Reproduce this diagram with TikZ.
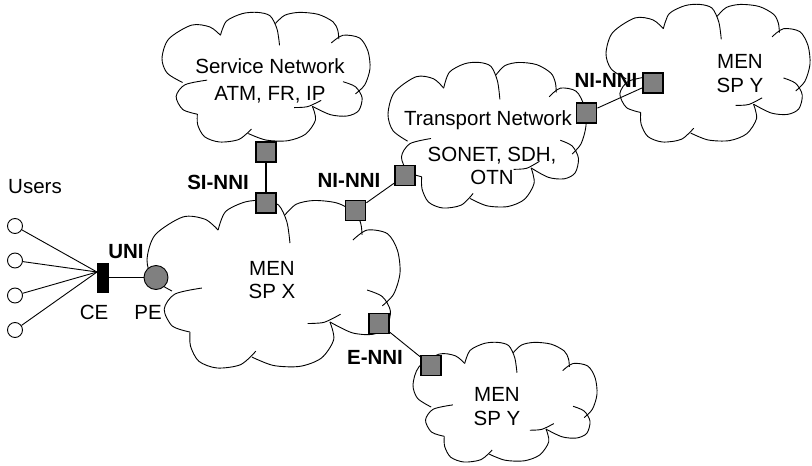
\documentclass[tikz,border=0pt]{standalone}
\usepackage{fontspec}
\setmainfont{Liberation Sans}
\newcommand{\cloudshape}{%
  \draw[cloudline] plot[smooth] coordinates {(0.099,0.542) (0.025,0.47) (0.0,0.357) (0.032,0.208) (0.142,0.101) (0.23,0.115) (0.281,0.179)};
  \draw[cloudline] plot[smooth] coordinates {(0.281,0.179) (0.31,0.07) (0.387,0.012) (0.46,0.003) (0.52,0.03) (0.553,0.131) (0.565,0.256)};
  \draw[cloudline] plot[smooth] coordinates {(0.545,0.089) (0.59,0.025) (0.66,0.003) (0.751,0.018) (0.822,0.075) (0.845,0.14) (0.85,0.208)};
  \draw[cloudline] plot[smooth] coordinates {(0.814,0.238) (0.87,0.179) (0.95,0.2) (0.99,0.3) (1.0,0.435) (0.975,0.56) (0.93,0.63)};
  \draw[cloudline] plot[smooth] coordinates {(0.87,0.536) (0.93,0.575) (0.962,0.66) (0.945,0.76) (0.89,0.8) (0.81,0.79) (0.723,0.726)};
  \draw[cloudline] plot[smooth] coordinates {(0.723,0.726) (0.738,0.83) (0.69,0.94) (0.605,0.99) (0.5,0.985) (0.415,0.935)};
  \draw[cloudline] plot[smooth] coordinates {(0.43,0.9) (0.37,0.98) (0.277,1.0) (0.205,0.96) (0.172,0.87) (0.17,0.786)};
  \draw[cloudline] plot[smooth] coordinates {(0.17,0.786) (0.1,0.75) (0.068,0.65) (0.11,0.56) (0.217,0.524)};
  \draw[cloudline] plot[smooth] coordinates {(0.635,0.735) (0.7,0.728) (0.765,0.68)};
}
\newcommand{\cloudat}[4]{\begin{scope}[shift={(#1,#2)},xscale=#3,yscale=#4]\cloudshape\end{scope}}
\begin{document}
\begin{tikzpicture}[x=1pt,y=-1pt,
  cloudline/.style={line width=0.9pt},
  port/.style={draw, line width=1.8pt, fill=gray, minimum size=20pt, inner sep=0pt},
  lbl/.style={font=\fontsize{20.5}{23.5}\selectfont, inner sep=0pt, align=center},
  blbl/.style={font=\fontsize{20.5}{23.5}\selectfont\bfseries, inner sep=0pt, align=center},
  user/.style={circle, draw, line width=0.9pt, minimum size=15pt, inner sep=0pt},
  link/.style={line width=0.9pt}]
\useasboundingbox (0,0) rectangle (812,466);
\fill[white] (0,0) rectangle (812,466);
% clouds
\cloudat{147}{200}{253}{168}
\cloudat{162}{12}{208}{130}
\cloudat{388}{62}{198}{146}
\cloudat{606}{4}{204}{138}
\cloudat{413}{342}{184}{120}
% ports
\node[port] (sisvc) at (266,152) {};
\node[port] (simen) at (266,203) {};
\node[port] (nimen) at (355.5,210.5) {};
\node[port] (nitr) at (405,175.5) {};
\node[port] (nitr2) at (586.5,113) {};
\node[port] (niy) at (653,83) {};
\node[port] (emen) at (379,323.5) {};
\node[port] (ey) at (431,365.5) {};
\draw[line width=1.3pt] (sisvc) -- (simen);
\draw[link] (nimen) -- (nitr);
\draw[link] (nitr2) -- (niy);
\draw[link] (emen) -- (ey);
% users, CE, PE
\node[user] (u1) at (15,226) {};
\node[user] (u2) at (15,260.5) {};
\node[user] (u3) at (15,295.5) {};
\node[user] (u4) at (15,330) {};
\node[draw, fill=black, minimum width=11pt, minimum height=29pt, inner sep=0pt] (ce) at (102.5,277.5) {};
\coordinate (cej) at (97,272);
\draw[link] (u1) -- (cej);
\draw[link] (u2) -- (cej);
\draw[link] (u3) -- (cej);
\draw[link] (u4) -- (cej);
\node[circle, draw, fill=gray, line width=0.9pt, minimum size=24pt, inner sep=0pt] (pe) at (156,277.5) {};
\draw[line width=1.8pt] (ce) -- (pe);
% labels
\node[lbl] (users) at (35,187) {Users};
\node[blbl] (uni) at (126,252) {UNI};
\node[lbl] (cel) at (94,312) {CE};
\node[lbl] (pel) at (148,312) {PE};
\node[blbl] (sinni) at (218,182) {SI-NNI};
\node[blbl] (ninni1) at (349,180) {NI-NNI};
\node[blbl] (ninni2) at (606,80) {NI-NNI};
\node[blbl] (enni) at (375,357) {E-NNI};
\node[lbl] (svc) at (270,81) {Service Network\\[3pt]ATM, FR, IP};
\node[lbl] (tr1) at (488,120) {Transport Network};
\node[lbl] (tr2) at (492,166) {SONET, SDH,\\OTN};
\node[lbl] (menx) at (272,280) {MEN\\SP X};
\node[lbl] (meny1) at (740,73.5) {MEN\\SP Y};
\node[lbl] (meny2) at (497,406.5) {MEN\\SP Y};
\end{tikzpicture}
\end{document}
